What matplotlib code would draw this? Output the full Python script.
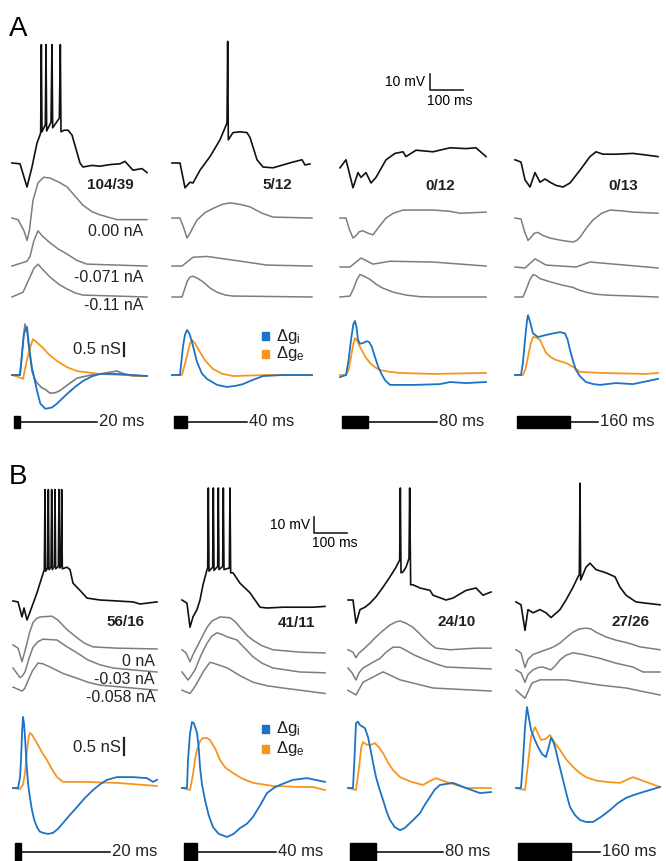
import numpy as np
import matplotlib.pyplot as plt
from matplotlib.patches import Rectangle

plt.rcParams['font.family'] = ['Liberation Sans', 'DejaVu Sans']
plt.rcParams['mathtext.fontset'] = 'custom'
plt.rcParams['mathtext.rm'] = 'Liberation Sans'
plt.rcParams['mathtext.it'] = 'Liberation Sans'

# ---- data: (time ms, value) pairs ----
# membrane potential (mV, rel. to rest), gray traces at 3 holding currents,
# conductance changes (nS): gi = inhibitory (blue), ge = excitatory (orange)

# Panel A, 20 ms
a1_vm = [(0, 0), (24, -0.5), (45, -15), (60, -2.5), (75, 12.5), (84, 17.5), (86, 19), (88, 74), (90, 19.5),
         (100, 24), (102, 74), (104, 20), (117, 25.5), (120, 74), (122, 22), (142, 28), (145, 74), (147, 19.5),
         (156, 20.5), (168, 20.5), (180, 17.5), (204, 0), (213, -2.5), (240, -1.5), (264, -2), (294, -1),
         (324, -0.5), (339, 1), (363, -4.5), (390, -3.5), (405, -6)]
a1_g0 = [(0, 0), (18, -1), (36, -8), (45, -14), (52, -8), (63, 11), (78, 22), (95, 25.5), (114, 25), (140, 22.5),
         (165, 19.5), (190, 13.5), (213, 8), (240, 4), (264, 2), (315, -1), (405, -1)]
a1_g1 = [(0, 0), (45, 3), (54, 6), (66, 16), (78, 22), (90, 19), (114, 14.5), (140, 10.5), (165, 7.5), (195, 3.5),
         (225, 1.2), (405, 0)]
a1_g2 = [(0, 0), (33, 3), (54, 12.5), (66, 18), (78, 20.5), (93, 17), (114, 12.5), (140, 8), (165, 5), (190, 2.5),
         (213, 1.2), (405, 0)]
a1_gi = [(0, 0), (24, 0), (30, 0.8), (36, 1.6), (45, 1.85), (52, 1.0), (60, 0.27), (75, -0.6), (85, -1.1), (100, -1.3),
         (120, -1.25), (135, -1.1), (165, -0.73), (190, -0.45), (213, -0.23), (240, -0.05), (264, 0.04), (315, 0.04),
         (405, -0.04)]
a1_ge = [(0, 0), (24, -0.1), (33, -0.15), (45, 0.6), (54, 1.04), (63, 1.38), (75, 1.25), (93, 1.04), (110, 0.8),
         (135, 0.54), (165, 0.3), (195, 0.15), (264, 0.04), (405, -0.04)]
a1_gn = [(0, 0), (24, 0), (30, 0.8), (33, 1.3), (39, 1.96), (45, 1.7), (52, 0.9), (60, 0.15), (68, -0.15), (75, -0.3),
         (90, -0.5), (100, -0.55), (114, -0.7), (130, -0.68), (144, -0.6), (170, -0.35), (195, -0.12), (230, -0.02),
         (264, 0.04), (290, 0.1), (315, 0.15), (335, 0.05), (363, -0.04), (405, -0.04)]

# Panel A, 40 ms
a2_vm = [(0, 0), (24, 0), (39, -15.5), (54, -12), (63, -12.5), (84, -4.5), (114, 4), (144, 14.5), (165, 25), (167, 76),
         (169, 14.5), (183, 19), (204, 19.5), (225, 19), (234, 16), (255, 2), (273, -2.5), (303, -3), (333, -1.2),
         (363, 0.6), (390, 2), (399, -1.2), (414, -0.6)]
a2_g0 = [(0, 0), (24, 0), (35, -6), (45, -12.5), (55, -9), (75, -1.2), (100, 3.5), (123, 6), (150, 8.5), (174, 9.5),
         (205, 8.5), (234, 7), (270, 3), (303, 0.6), (420, 0)]
a2_g1 = [(0, 0), (30, 0), (63, 5.5), (105, 6), (183, 3.7), (285, 0.6), (420, 0)]
a2_g2 = [(0, 0), (30, 0), (38, 5), (45, 9.5), (54, 12.5), (63, 13), (78, 11.5), (93, 9.5), (115, 5.5), (135, 3),
         (160, 1.2), (183, 0.6), (420, 0)]
a2_gi = [(0, 0), (24, 0), (33, 1.1), (39, 1.55), (45, 1.73), (52, 1.6), (60, 1.27), (75, 0.5), (90, 0.05), (105, -0.15),
         (135, -0.38), (165, -0.46), (190, -0.42), (213, -0.35), (240, -0.2), (273, -0.04), (333, 0), (420, 0)]
a2_ge = [(0, 0), (30, 0), (45, 0.73), (54, 1.2), (60, 1.35), (70, 1.2), (84, 0.88), (100, 0.55), (123, 0.23),
         (150, 0.05), (183, -0.04), (285, 0), (420, 0)]

# Panel A, 80 ms
a3_vm = [(0, -3), (18, 2), (39, -15.5), (54, -6), (63, -9), (78, -6), (93, -12.5), (108, -9), (138, 2), (165, 6),
         (189, 7), (198, 4), (228, 8), (279, 7), (330, 9.5), (378, 9), (408, 9.5), (438, 4)]
a3_g0 = [(0, 0), (18, 0), (28, -7), (39, -12.5), (48, -11), (58, -8.5), (69, -8), (84, -9.5), (99, -10.5), (115, -6),
         (138, 0), (160, 3), (189, 5), (279, 5), (330, 4.2), (360, 3), (438, 3.7)]
a3_g1 = [(0, -0.6), (30, -0.6), (63, 5), (99, 1.2), (150, 3), (279, 2.5), (438, 0)]
a3_g2 = [(0, 0), (30, 0.6), (40, 5), (50, 10.5), (60, 14), (72, 13), (90, 11), (108, 8), (129, 5.5), (160, 3),
         (198, 1.2), (240, 0.2), (279, 0), (438, 0)]
a3_gi = [(0, -0.08), (18, 0), (26, 0.6), (33, 1.35), (40, 1.95), (45, 2.08), (50, 1.8), (54, 1.35), (60, 1.2), (69, 1.23),
         (80, 1.3), (87, 1.27), (95, 1.1), (105, 0.69), (115, 0.3), (123, 0.08), (135, -0.2), (150, -0.38), (228, -0.38),
         (300, -0.35), (330, -0.27), (378, -0.31), (438, -0.27)]
a3_ge = [(0, 0), (18, 0), (26, 0.2), (33, 0.69), (40, 1.2), (45, 1.42), (52, 1.3), (60, 1.08), (75, 0.72), (90, 0.46),
         (105, 0.3), (120, 0.19), (150, 0.12), (180, 0.08), (279, 0.04), (438, 0.08)]

# Panel A, 160 ms
a4_vm = [(0, 2), (18, 0.6), (30, -10.5), (45, -15), (60, -6), (75, -12), (90, -10), (105, -12), (123, -14), (144, -15),
         (165, -12.5), (195, -4.5), (225, 4), (243, 7), (264, 5.5), (303, 5.5), (354, 6), (393, 5), (429, 4)]
a4_g0 = [(0, 0), (18, -0.6), (28, -8), (39, -14), (48, -12), (58, -9.5), (69, -9), (85, -11), (105, -12.5), (140, -14),
         (174, -15), (185, -14), (195, -12), (215, -6), (234, -1.2), (260, 3), (285, 5), (320, 4.5), (354, 3.7), (429, 3)]
a4_g1 = [(0, -0.6), (30, -1.2), (60, 4.5), (93, 0.6), (183, -0.6), (225, 2.5), (429, -1.2)]
a4_g2 = [(0, 0), (24, 0), (36, 6), (45, 11), (54, 14), (62, 13.5), (75, 11.5), (105, 9.5), (140, 7.5), (174, 6),
         (190, 4.5), (213, 3), (240, 1.8), (273, 1.2), (429, 0)]
a4_gi = [(0, 0), (18, 0), (24, 0.5), (30, 1.35), (36, 2.1), (39, 2.3), (45, 2.05), (54, 1.6), (69, 1.46), (93, 1.54),
         (115, 1.6), (135, 1.65), (150, 1.6), (158, 1.35), (165, 0.96), (175, 0.5), (183, 0.19), (195, -0.05),
         (213, -0.27), (235, -0.35), (255, -0.38), (303, -0.31), (354, -0.35), (429, -0.15)]
a4_ge = [(0, 0), (24, 0), (32, 0.25), (39, 0.69), (47, 1.2), (54, 1.46), (63, 1.45), (75, 1.35), (84, 1.1), (93, 0.85),
         (108, 0.68), (123, 0.58), (153, 0.46), (170, 0.35), (195, 0.12), (255, 0.08), (393, 0.04), (429, 0.08)]

# Panel B, 20 ms
b1_vm = [(0, -0.6), (15, -1.2), (27, -10.5), (33, -5), (42, -12.5), (51, -7.5), (72, 4.5), (87, 14.5), (94, 19), (96, 69),
         (98, 18), (104, 20), (106, 69), (108, 19), (114, 20.5), (116, 69), (118, 19), (124, 21), (126, 69), (128, 19.5),
         (136, 21), (138, 69), (140, 20), (144, 21), (146, 69), (148, 19.5), (155, 20), (162, 20.5), (171, 19), (180, 10.5),
         (201, 6), (222, 1.2), (261, 0), (312, -0.6), (360, -1.2), (381, -2.5), (432, -1.2)]
b1_g0 = [(0, 0), (15, -2), (21, -6), (27, -10.5), (33, -6), (42, 1.2), (50, 8), (60, 14), (70, 16.5), (81, 17.5),
         (117, 18), (135, 15.5), (160, 10), (192, 4.5), (215, 1), (240, -1.2), (312, -2), (432, -2.5)]
b1_g1 = [(0, 0), (21, -6), (28, -5), (36, -2.5), (48, 6), (60, 13), (75, 16.5), (90, 18), (132, 17.5), (160, 13.5),
         (192, 9.5), (225, 5), (261, 2), (300, 0), (360, -1.2), (432, -2.5)]
b1_g2 = [(0, 0), (27, -2.5), (35, -1), (42, 2.5), (58, 10), (75, 15), (90, 14.5), (111, 12.5), (150, 8.5), (192, 5.5),
         (225, 3), (261, 1.2), (432, -2)]
b1_gi = [(0, 0), (15, 0), (21, 0.3), (24, 0.82), (27, 1.6), (30, 2.09), (33, 1.9), (36, 1.5), (40, 0.8), (45, 0.15),
         (51, -0.3), (57, -0.65), (64, -0.95), (72, -1.15), (80, -1.28), (90, -1.32), (105, -1.35), (120, -1.32),
         (135, -1.2), (150, -1.03), (170, -0.8), (192, -0.56), (215, -0.3), (240, -0.06), (260, 0.1), (282, 0.24),
         (312, 0.32), (360, 0.32), (402, 0.29), (420, 0.18), (432, 0.24)]
b1_ge = [(0, 0), (21, -0.03), (30, 0.1), (36, 0.44), (42, 1.1), (47, 1.5), (51, 1.62), (58, 1.55), (72, 1.32), (87, 1.05),
         (102, 0.82), (117, 0.55), (132, 0.32), (150, 0.18), (210, 0.18), (312, 0.15), (432, 0.06)]

# Panel B, 40 ms
b2_vm = [(0, 0), (15, -2), (24, -17), (33, -10.5), (45, -6), (54, 0), (63, 9.5), (75, 19), (77, 20), (79, 70), (81, 18),
         (92, 20.5), (94, 70), (96, 18.5), (107, 21), (109, 70), (111, 19), (122, 21), (124, 70), (126, 19), (142, 20),
         (144, 70), (146, 17), (153, 17), (174, 10.5), (204, 4.5), (234, -4.5), (255, -5), (303, -4.5), (354, -4.5),
         (393, -4.5), (429, -4)]
b2_g0 = [(0, -3), (12, -5), (24, -10.5), (33, -6), (45, -1.2), (60, 5), (75, 11), (90, 15), (114, 17.5), (144, 17),
         (160, 14.5), (174, 11), (195, 6), (213, 3), (240, -0.5), (273, -3), (354, -4.5), (429, -5)]
b2_g1 = [(0, -2.5), (18, -7.5), (27, -5), (39, -1.2), (57, 8), (75, 15.5), (90, 20), (105, 22), (120, 21), (135, 19.5),
         (150, 18.5), (165, 17.5), (190, 12), (213, 7), (240, 3), (273, 0), (354, -2.5), (429, -3)]
b2_g2 = [(0, -2), (24, -4), (33, -1.5), (45, 2.5), (65, 10), (84, 15.5), (100, 14.5), (135, 12), (175, 7), (213, 3),
         (255, 0.8), (303, -0.6), (429, -4)]
b2_gi = [(0, 0), (15, 0), (18, 0.82), (24, 1.6), (30, 1.94), (36, 1.9), (45, 1.62), (50, 1.2), (54, 0.62), (60, 0.1),
         (69, -0.35), (80, -0.8), (93, -1.15), (110, -1.35), (135, -1.44), (155, -1.35), (174, -1.18), (195, -1.05),
         (213, -0.85), (235, -0.5), (255, -0.15), (275, 0.0), (294, 0.09), (333, 0.24), (375, 0.29), (429, 0.18)]
b2_ge = [(0, 0), (24, -0.06), (33, 0.4), (40, 0.9), (45, 1.12), (54, 1.38), (63, 1.47), (75, 1.47), (84, 1.41),
         (100, 1.15), (114, 0.82), (130, 0.6), (153, 0.44), (180, 0.28), (213, 0.15), (273, 0.06), (354, 0.03),
         (393, 0.03), (429, -0.06)]

# Panel B, 80 ms
b3_vm = [(0, 0), (15, 0), (24, -14.5), (36, -6), (51, -4.5), (66, -2), (84, 2), (105, 8), (126, 14.5), (144, 20.5), (155, 25),
         (157, 70), (159, 17), (165, 17.5), (174, 20.5), (183, 26), (185, 70), (188, 9.5), (195, 9.5), (216, 7.5), (246, 6),
         (255, 3), (294, 0), (315, 1.2), (354, 6), (384, 7.5), (405, 3), (429, 5)]
b3_g0 = [(0, -3), (15, -4.5), (24, -8), (33, -5), (45, -3), (65, 1), (84, 5), (105, 9), (126, 12.5), (145, 14.5),
         (156, 15), (175, 13.5), (195, 11), (215, 7), (234, 3), (250, 0), (264, -2), (306, -3), (384, -2), (429, -2)]
b3_g1 = [(0, 0), (12, -3), (24, -7.5), (33, -3), (45, 0), (70, 3), (96, 6), (115, 10), (135, 13), (156, 13), (174, 11),
         (200, 8), (234, 5), (265, 2.5), (294, 0.6), (429, -0.6)]
b3_g2 = [(0, -2), (24, -5), (45, 3), (105, 9.5), (156, 4.5), (255, -0.6), (429, -2.5)]
b3_gi = [(0, 0), (15, 0), (20, 1.0), (24, 1.91), (30, 1.95), (36, 1.85), (51, 1.76), (60, 1.5), (66, 1.21), (75, 0.75),
         (84, 0.32), (95, -0.05), (105, -0.35), (116, -0.7), (126, -0.94), (140, -1.15), (156, -1.24), (170, -1.18),
         (186, -1.03), (200, -0.9), (216, -0.74), (230, -0.5), (246, -0.26), (260, -0.05), (276, 0.09), (315, 0.15),
         (354, 0), (396, -0.15), (429, -0.12)]
b3_ge = [(0, 0), (24, -0.06), (33, 0.6), (40, 1.2), (45, 1.35), (55, 1.28), (66, 1.26), (81, 1.32), (92, 1.2), (105, 1.03),
         (120, 0.75), (135, 0.53), (156, 0.32), (190, 0.18), (225, 0.09), (245, 0.2), (264, 0.29), (294, 0.18), (354, 0),
         (429, 0)]

# Panel B, 160 ms
b4_vm = [(0, -1.2), (15, -3), (27, -19), (36, -6), (51, -8), (72, -6), (90, -8), (105, -11), (132, -6), (150, 0), (171, 8),
         (186, 14.5), (190, 16), (192, 73), (194, 12.5), (210, 20.5), (222, 23), (240, 19), (270, 17), (297, 14.5), (312, 8),
         (330, 3), (360, -1.2), (390, -2), (432, -3)]
b4_g0 = [(0, -3), (15, -5), (27, -14), (36, -9), (51, -6), (70, -4.5), (90, -3), (110, -1.5), (132, 1.2), (150, 4.5),
         (171, 8), (190, 10), (210, 10.5), (225, 10), (240, 8), (270, 5), (300, 3), (340, 1), (372, -1.2), (432, -3)]
b4_g1 = [(0, -1.2), (15, -3), (27, -9), (36, -4), (51, -1.2), (66, 0.3), (81, 0.6), (93, -0.3), (105, -1.2), (118, 1.5),
         (132, 5), (150, 8), (171, 9.5), (200, 8.5), (252, 6), (300, 3), (351, 0.6), (381, -2.5), (432, -2.5)]
b4_g2 = [(0, -2), (27, -7), (48, 2.5), (72, 4.5), (150, 4.5), (252, 1.2), (330, -0.6), (432, -5)]
b4_gi = [(0, 0), (15, 0), (21, 0.8), (27, 1.79), (33, 2.38), (38, 2.1), (45, 1.71), (55, 1.45), (66, 1.21), (78, 1.0),
         (90, 0.91), (98, 1.2), (105, 1.47), (110, 1.4), (117, 1.21), (128, 0.75), (141, 0.24), (152, -0.2), (162, -0.56),
         (177, -0.8), (192, -0.94), (210, -1.0), (231, -1.0), (255, -0.85), (282, -0.65), (305, -0.45), (330, -0.29),
         (355, -0.2), (381, -0.12), (432, 0.03)]
b4_ge = [(0, 0), (27, -0.06), (36, 0.7), (45, 1.5), (57, 1.79), (66, 1.6), (75, 1.41), (90, 1.45), (102, 1.56), (115, 1.35),
         (132, 1.12), (150, 0.85), (171, 0.62), (190, 0.45), (210, 0.32), (240, 0.22), (270, 0.18), (312, 0.15),
         (335, 0.25), (351, 0.32), (370, 0.25), (390, 0.18), (432, 0.03)]

stim_ms = [20, 40, 80, 160]
ratios_a = ["104/39", "5/12", "0/12", "0/13"]
ratios_b = ["56/16", "41/11", "24/10", "27/26"]
currents_a = ["0.00 nA", "-0.071 nA", "-0.11 nA"]
currents_b = ["0 nA", "-0.03 nA", "-0.058 nA"]

# ---- layout (pixels) ----
W, H = 666, 861
PX_MS = 1 / 3      # px per ms
PX_MV = 1.6        # px per mV
T_SPAN = 440
BLUE, ORANGE, GRAY = "#1c72c6", "#f7961e", "#7d7d7d"

fig = plt.figure(figsize=(W / 100, H / 100), dpi=100)


def add_ax(x0, y_zero, lo, hi, ppu):
    top = y_zero - hi * ppu
    h = (hi - lo) * ppu
    ax = fig.add_axes([x0 / W, 1 - (top + h) / H, T_SPAN * PX_MS / W, h / H])
    ax.set_xlim(0, T_SPAN)
    ax.set_ylim(lo, hi)
    ax.axis("off")
    ax.patch.set_alpha(0)
    return ax


def ftext(x, y, s, **kw):
    fig.text(x / W, 1 - y / H, s, **kw)


def xy(trace):
    a = np.array(trace, dtype=float)
    return a[:, 0], a[:, 1]


panels = [
    dict(x0=[12, 172, 340, 515], vzero=163, vlim=(-90, 80), offs=[-34.4, -64.4, -83.75],
         gzero=375, gppu=26, glim=(-1.6, 2.6), sy=422, sh=12, send=[255, 225, 291, 249],
         vm=[a1_vm, a2_vm, a3_vm, a4_vm], gray=[[a1_g0, a1_g1, a1_g2], [a2_g0, a2_g1, a2_g2],
                                                [a3_g0, a3_g1, a3_g2], [a4_g0, a4_g1, a4_g2]],
         gi=[a1_gi, a2_gi, a3_gi, a4_gi], ge=[a1_ge, a2_ge, a3_ge, a4_ge],
         ratios=ratios_a, rxy=[(110, 185), (277, 185), (440, 186), (623, 186)],
         currents=currents_a, cx=143, cy=[232, 277, 306]),
    dict(x0=[13, 182, 348, 516], vzero=600, vlim=(-70, 80), offs=[-28.1, -42.5, -54.4],
         gzero=788, gppu=34, glim=(-1.65, 2.6), sy=852, sh=18, send=[291, 282, 285, 252],
         vm=[b1_vm, b2_vm, b3_vm, b4_vm], gray=[[b1_g0, b1_g1, b1_g2], [b2_g0, b2_g1, b2_g2],
                                                [b3_g0, b3_g1, b3_g2], [b4_g0, b4_g1, b4_g2]],
         gi=[b1_gi, b2_gi, b3_gi, b4_gi], ge=[b1_ge, b2_ge, b3_ge, b4_ge],
         ratios=ratios_b, rxy=[(125, 622), (296, 623), (457, 622), (631, 622)],
         currents=currents_b, cx=155, cy=[661, 680, 698]),
]

vaxes, gaxes = [], []
for p in panels:
    va_row, ga_row = [], []
    for c in range(4):
        x0 = p["x0"][c]
        ax_v = add_ax(x0, p["vzero"], *p["vlim"], PX_MV)
        t, v = xy(p["vm"][c])
        ax_v.plot(t, v, color="#111111", lw=1.2, clip_on=False)
        for trace, off in zip(p["gray"][c], p["offs"]):
            t, v = xy(trace)
            ax_v.plot(t, v + off, color=GRAY, lw=1.1, clip_on=False)

        ax_g = add_ax(x0, p["gzero"], *p["glim"], p["gppu"])
        t, g = xy(p["ge"][c])
        ax_g.plot(t, g, color=ORANGE, lw=1.3, clip_on=False)
        t, g = xy(p["gi"][c])
        ax_g.plot(t, g, color=BLUE, lw=1.3, clip_on=False)

        ax_s = add_ax(x0, p["sy"], -10, 10, 1)
        dur = stim_ms[c]
        ax_s.add_patch(Rectangle((5, -p["sh"] / 2), dur, p["sh"], color="black", clip_on=False))
        ax_s.plot([5 + dur, p["send"][c]], [0, 0], color="black", lw=1.1, clip_on=False)
        ax_s.text(p["send"][c] + 6, 0, f"{dur} ms", fontsize=12, ha="left", va="center", color="#222222")

        rx, ry = p["rxy"][c]
        ftext(rx, ry, p["ratios"][c], fontsize=11, fontweight="bold", ha="center", va="center", color="#222222")
        va_row.append(ax_v)
        ga_row.append(ax_g)
    for s, yy in zip(p["currents"], p["cy"]):
        ftext(p["cx"], yy, s, fontsize=11.5, ha="right", va="center", color="#222222")
    vaxes.append(va_row)
    gaxes.append(ga_row)

# gray (total) conductance trace in A, 20 ms
t, g = xy(a1_gn)
gaxes[0][0].plot(t, g, color=GRAY, lw=1.2, zorder=1.5, clip_on=False)

# scale bars: 10 mV / 100 ms
for ax, (tx, vy) in [(vaxes[0][2], (270, 45.6)), (vaxes[1][1], (396, 41.9))]:
    ax.plot([tx, tx, tx + 100], [vy + 10, vy, vy], color="#222222", lw=1.2, clip_on=False)
ftext(425, 82, "10 mV", fontsize=10, ha="right", va="center")
ftext(427, 101, "100 ms", fontsize=10, ha="left", va="center")
ftext(310, 525, "10 mV", fontsize=10, ha="right", va="center")
ftext(312, 543, "100 ms", fontsize=10, ha="left", va="center")

# scale bars: 0.5 nS
for ax, (tx, gy), yl in [(gaxes[0][0], (336, 0.73), 350), (gaxes[1][0], (333, 0.97), 747)]:
    ax.plot([tx, tx], [gy, gy + 0.5], color="#222222", lw=1.6, clip_on=False)
    ftext(121, yl, "0.5 nS", fontsize=12, ha="right", va="center", color="#222222")

# legends
for yb, yo in [(336, 354), (729, 749)]:
    for yy, col, lab in [(yb, BLUE, r"$\Delta$g$_\mathrm{i}$"), (yo, ORANGE, r"$\Delta$g$_\mathrm{e}$")]:
        fig.add_artist(Rectangle((262 / W, 1 - (yy + 4) / H), 7 / W, 8 / H, color=col, transform=fig.transFigure))
        ftext(276, yy, lab, fontsize=12, ha="left", va="center", color="#222222")

# panel letters
ftext(9, 29, "A", fontsize=20, ha="left", va="center")
ftext(9, 477, "B", fontsize=20, ha="left", va="center")

fig.savefig("out.png", dpi=100)
